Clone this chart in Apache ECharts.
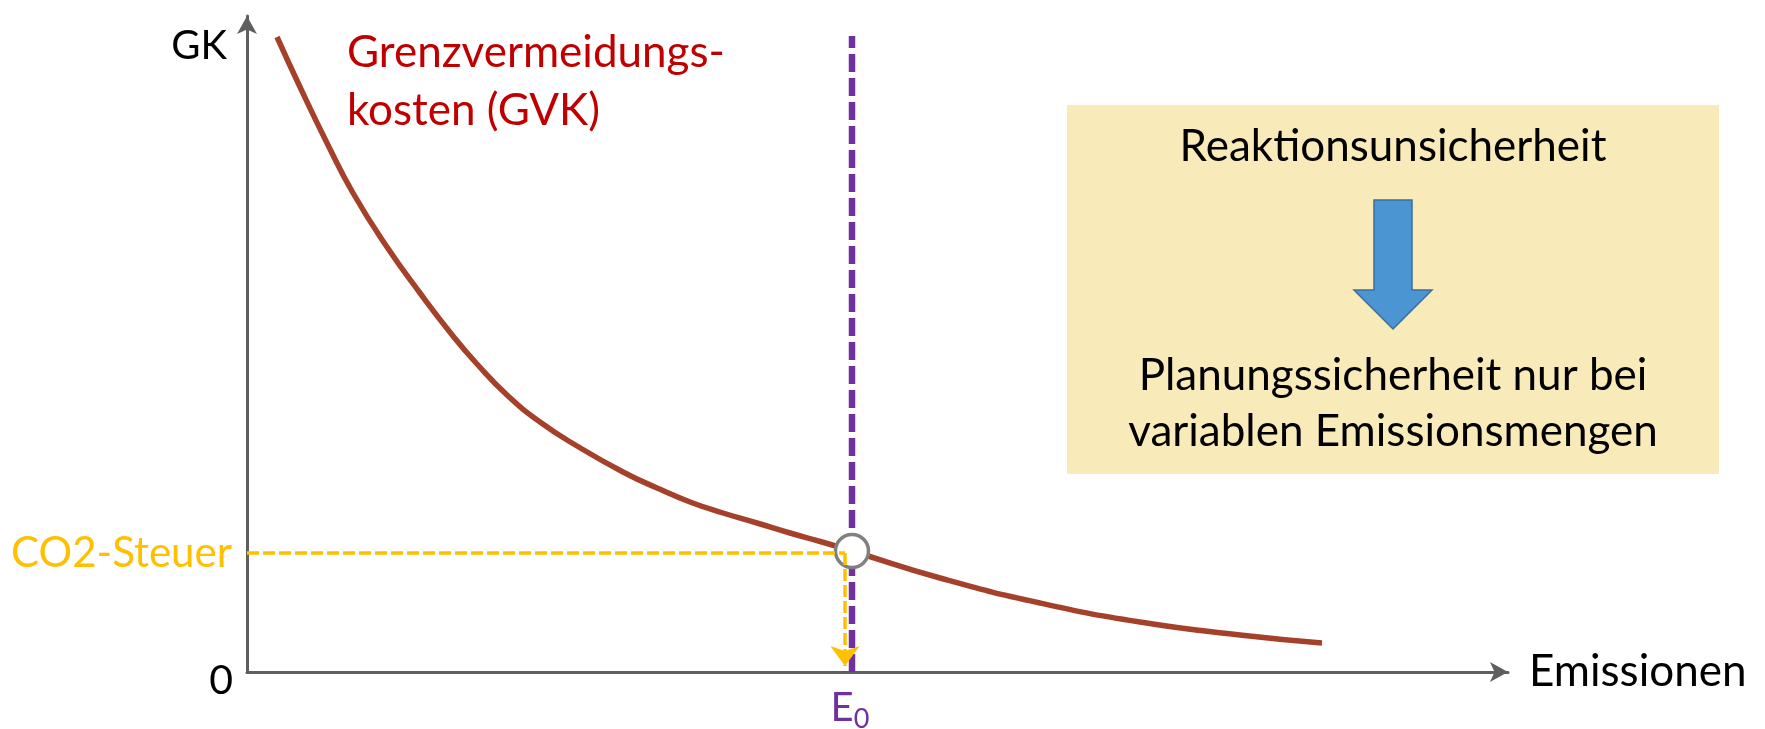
<!DOCTYPE html>
<html>
<head>
<meta charset="utf-8">
<script src="https://cdn.jsdelivr.net/npm/echarts@6/dist/echarts.min.js"></script>
<style>
html,body{margin:0;padding:0;background:#fff;}
#chart{width:1765px;height:729px;}
</style>
</head>
<body>
<div id="chart"></div>
<script>
// ---- data (picture units) ----
const curveX = [30, 53, 80, 106, 140, 173, 206, 230, 260, 293, 330, 376, 410, 443, 476, 510, 543, 575, 605, 693, 793, 893, 993, 1075];
const curveY = [635, 585, 529, 479, 425, 379, 336, 308, 277, 250, 226, 200, 184, 170, 159, 149, 139, 130, 121, 94, 69, 50, 37, 29];
const e0 = 605;            // emission level E0
const e0Top = 636;         // top of the purple dashed line
const taxLevel = 119;      // CO2 tax level
const taxDropX = 598;      // x of the yellow down arrow
const taxArrowEnd = 6;
const xAxisName = 'Emissionen';
const yAxisName = 'GK';
const originLabel = '0';
const taxLabel = 'CO2-Steuer';
const e0Label = 'E';
const e0Sub = '0';
const curveLabel = ['Grenzvermeidungs-', 'kosten (GVK)'];
const curveLabelPos = [100, 619];
const boxLines = ['Reaktionsunsicherheit', 'Planungssicherheit nur bei', 'variablen Emissionsmengen'];

const FONT = 'Lato, "Noto Sans", sans-serif';
const chart = echarts.init(document.getElementById('chart'));

const curveData = curveX.map((x, i) => [x, curveY[i]]);

const option = {
  animation: false,
  grid: {left: 247, right: 257, top: 16, bottom: 57},
  xAxis: {
    type: 'value', min: 0, max: 1261,
    axisLine: {show: true, lineStyle: {color: '#5f5f5f', width: 3}, symbol: ['none', 'arrow'], symbolSize: [15, 18]},
    axisTick: {show: false}, axisLabel: {show: false}, splitLine: {show: false}
  },
  yAxis: {
    type: 'value', min: 0, max: 656,
    axisLine: {show: true, lineStyle: {color: '#5f5f5f', width: 3}, symbol: ['none', 'arrow'], symbolSize: [15, 18]},
    axisTick: {show: false}, axisLabel: {show: false}, splitLine: {show: false}
  },
  series: [
    {
      type: 'line', data: [[e0, 0], [e0, e0Top]], symbol: 'none', z: 2,
      lineStyle: {color: '#7030A0', width: 6.5, type: [18, 6]}
    },
    {
      type: 'line', data: curveData, smooth: 0.5, symbol: 'none', z: 3,
      lineStyle: {color: '#A5402A', width: 5.5}
    },
    {
      type: 'scatter', data: [[e0, 121]], symbolSize: 33, z: 4,
      itemStyle: {color: '#ffffff', borderColor: '#808080', borderWidth: 3.5, opacity: 1}
    },
    {
      type: 'line', data: [[0, taxLevel], [taxDropX, taxLevel]], symbol: 'none', z: 5,
      lineStyle: {color: '#FFC000', width: 3.5, type: [12, 4]},
      markLine: {
        silent: true, symbol: ['none', 'arrow'], symbolSize: [22, 20],
        label: {show: false},
        lineStyle: {color: '#FFC000', width: 3.5, type: [12, 4]},
        data: [[{coord: [taxDropX, taxLevel]}, {coord: [taxDropX, taxArrowEnd]}]]
      }
    }
  ]
};
chart.setOption(option);

function px(p) { return chart.convertToPixel({gridIndex: 0}, p); }

const o = px([0, 0]);
const xEnd = px([1261, 0]);
const yEnd = px([0, 656]);
const tax = px([0, taxLevel]);
const e0p = px([e0, 0]);
const cl = px(curveLabelPos);

const txt = (x, y, text, opts) => ({
  type: 'text', x: x, y: y, z: 10,
  style: Object.assign({text: text, font: '39px ' + FONT, fill: '#000', align: 'left', verticalAlign: 'middle'}, opts || {})
});

const boxX = 1067, boxY = 105, boxW = 652, boxH = 369, cx = boxX + boxW / 2;
const BF = '44px ' + FONT;

chart.setOption({
  graphic: [
    {type: 'rect', shape: {x: boxX, y: boxY, width: boxW, height: boxH}, style: {fill: '#F8EBB9'}, z: 1},
    {type: 'polygon', z: 2, shape: {points: [[cx - 19, 200], [cx + 19, 200], [cx + 19, 290], [cx + 39, 290], [cx, 329], [cx - 39, 290], [cx - 19, 290]]},
      style: {fill: '#4B95D2', stroke: '#3A6F9E', lineWidth: 1.5}},
    txt(cx, 147, boxLines[0], {align: 'center', font: BF}),
    txt(cx, 376, boxLines[1], {align: 'center', font: BF}),
    txt(cx, 432, boxLines[2], {align: 'center', font: BF}),
    txt(o[0] - 14, o[1] + 9, originLabel, {align: 'right', font: '41px ' + FONT}),
    txt(yEnd[0] - 20, yEnd[1] + 30, yAxisName, {align: 'right', font: '40px ' + FONT}),
    txt(xEnd[0] + 21, xEnd[1], xAxisName, {align: 'left', font: '44px ' + FONT}),
    txt(tax[0] - 15, tax[1], taxLabel, {align: 'right', fill: '#FFC000', font: '42px ' + FONT}),
    {type: 'text', x: e0p[0] - 2, y: e0p[1] + 36, z: 10,
      style: {text: '{e|' + e0Label + '}{s|' + e0Sub + '}', align: 'center', verticalAlign: 'middle',
        rich: {e: {font: '40px ' + FONT, fill: '#7030A0'}, s: {font: '27px ' + FONT, fill: '#7030A0', padding: [22, 0, 0, 0]}}}},
    txt(cl[0], cl[1], curveLabel[0], {fill: '#C00000', font: '44px ' + FONT}),
    txt(cl[0], cl[1] + 58, curveLabel[1], {fill: '#C00000', font: '44px ' + FONT})
  ]
});
</script>
</body>
</html>
